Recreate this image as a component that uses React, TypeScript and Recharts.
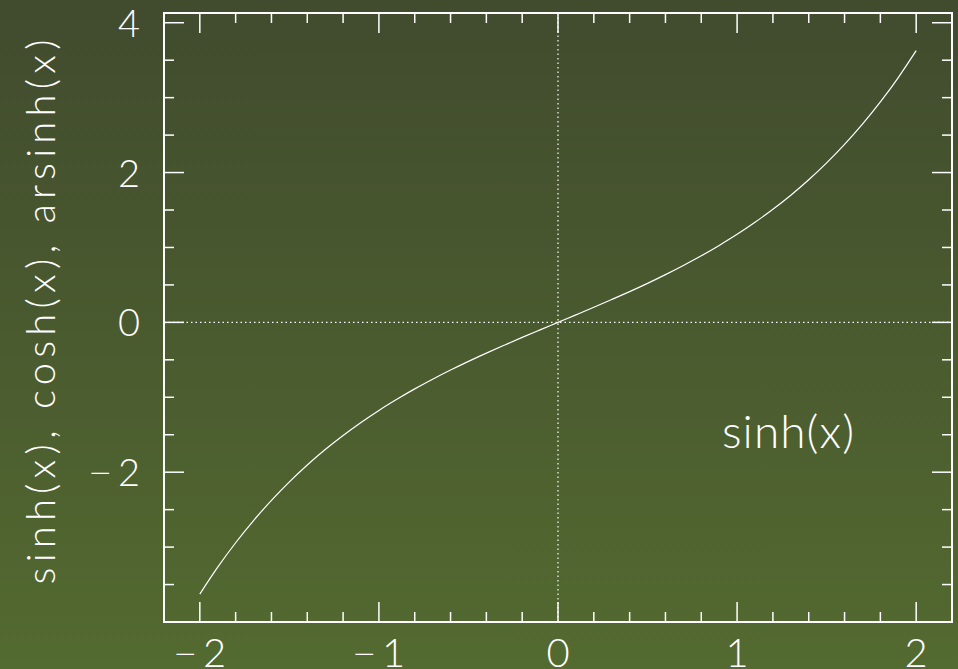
import { LineChart, Line, XAxis, YAxis, ReferenceLine, ReferenceArea } from 'recharts';

// x samples and sinh(x) values
const xs = [
  -2.0, -1.9, -1.8, -1.7, -1.6, -1.5, -1.4, -1.3, -1.2, -1.1, -1.0,
  -0.9, -0.8, -0.7, -0.6, -0.5, -0.4, -0.3, -0.2, -0.1, 0.0,
  0.1, 0.2, 0.3, 0.4, 0.5, 0.6, 0.7, 0.8, 0.9, 1.0,
  1.1, 1.2, 1.3, 1.4, 1.5, 1.6, 1.7, 1.8, 1.9, 2.0,
];
const sinhValues = [
  -3.627, -3.268, -2.942, -2.646, -2.376, -2.129, -1.904, -1.698, -1.510, -1.336, -1.175,
  -1.027, -0.888, -0.759, -0.637, -0.521, -0.411, -0.305, -0.201, -0.100, 0.0,
  0.100, 0.201, 0.305, 0.411, 0.521, 0.637, 0.759, 0.888, 1.027, 1.175,
  1.336, 1.510, 1.698, 1.904, 2.129, 2.376, 2.646, 2.942, 3.268, 3.627,
];

const xTicks = [
  -2, -1.8, -1.6, -1.4, -1.2, -1, -0.8, -0.6, -0.4, -0.2, 0,
  0.2, 0.4, 0.6, 0.8, 1, 1.2, 1.4, 1.6, 1.8, 2,
];
const yTicks = [-3.5, -3, -2.5, -2, -1.5, -1, -0.5, 0, 0.5, 1, 1.5, 2, 2.5, 3, 3.5, 4];
const yLabelled = [-2, 0, 2, 4];

const xDomain: [number, number] = [-2.2, 2.2];
const yDomain: [number, number] = [-4, 4.13];

const data = xs.map((x, i) => ({ x, y: sinhValues[i] }));

const W = 958;
const H = 669;
const LEFT = 164;
const RIGHT = 952;
const TOP = 13;
const BOTTOM = 622;
const MAJOR = 20;
const MINOR = 10;
const FONT = 'Lato, Roboto, "DejaVu Sans", sans-serif';
const WEIGHT = 300;

// long thin minus sign, raised to digit mid-height, then the magnitude
const Num = ({ v }: { v: number }) =>
  v < 0 ? (
    <>
      <tspan fontFamily='"DejaVu Sans"' fontWeight={200} fontSize={28} dy={-4}>
        {'\u2212'}
      </tspan>
      <tspan dx={6} dy={4}>
        {Math.abs(v)}
      </tspan>
    </>
  ) : (
    <>{String(v)}</>
  );

const XTick = (props: any) => {
  const { x, payload } = props;
  const v = payload.value;
  const major = Number.isInteger(v);
  const len = major ? MAJOR : MINOR;
  return (
    <g>
      <line x1={x} x2={x} y1={BOTTOM} y2={BOTTOM - len} stroke="#fff" strokeWidth={1.5} />
      <line x1={x} x2={x} y1={TOP} y2={TOP + len} stroke="#fff" strokeWidth={1.5} />
      {major && (
        <text x={x} y={667} textAnchor="middle" fill="#fff" fontSize={40} fontWeight={WEIGHT} fontFamily={FONT}>
          <Num v={v} />
        </text>
      )}
    </g>
  );
};

const YTick = (props: any) => {
  const { y, payload } = props;
  const v = payload.value;
  const major = yLabelled.includes(v);
  const len = major ? MAJOR : MINOR;
  return (
    <g>
      <line x1={LEFT} x2={LEFT + len} y1={y} y2={y} stroke="#fff" strokeWidth={1.5} />
      <line x1={RIGHT} x2={RIGHT - len} y1={y} y2={y} stroke="#fff" strokeWidth={1.5} />
      {major && (
        <text x={140} y={y + 14} textAnchor="end" fill="#fff" fontSize={38} fontWeight={WEIGHT} fontFamily={FONT}>
          <Num v={v} />
        </text>
      )}
    </g>
  );
};

export default function App() {
  return (
    <div
      style={{
        position: 'absolute',
        left: 0,
        top: 0,
        width: W,
        height: H,
        background: 'linear-gradient(to bottom, #414b2e 0%, #536a30 100%)',
      }}
    >
      <LineChart
        width={W}
        height={H}
        data={data}
        margin={{ top: TOP, right: W - RIGHT, bottom: 0, left: 0 }}
      >
        <XAxis
          dataKey="x"
          type="number"
          domain={xDomain}
          ticks={xTicks}
          interval={0}
          axisLine={false}
          tickLine={false}
          tick={<XTick />}
          height={H - BOTTOM}
          allowDataOverflow
        />
        <YAxis
          type="number"
          domain={yDomain}
          ticks={yTicks}
          interval={0}
          axisLine={false}
          tickLine={false}
          tick={<YTick />}
          width={LEFT}
          allowDataOverflow
        />
        <ReferenceLine x={0} stroke="#fff" strokeWidth={1.2} strokeDasharray="1.5 3" />
        <ReferenceLine y={0} stroke="#fff" strokeWidth={1.2} strokeDasharray="1.5 3" />
        <Line
          dataKey="y"
          type="monotone"
          stroke="#fff"
          strokeWidth={1.2}
          dot={false}
          isAnimationActive={false}
        />
        <ReferenceArea
          x1={xDomain[0]}
          x2={xDomain[1]}
          y1={yDomain[0]}
          y2={yDomain[1]}
          fill="none"
          fillOpacity={0}
          stroke="#fff"
          strokeWidth={2}
          ifOverflow="visible"
        />
        <text
          x={40}
          y={312}
          transform="rotate(-90 40 312)"
          textAnchor="middle"
          dominantBaseline="central"
          fill="#fff"
          fontSize={40}
          fontWeight={WEIGHT}
          fontFamily={FONT}
          textLength={545}
          lengthAdjust="spacing"
        >
          sinh(x), cosh(x), arsinh(x)
        </text>
        <text
          x={722}
          y={448}
          fill="#fff"
          fontSize={46}
          fontWeight={WEIGHT}
          fontFamily={FONT}
          textLength={132}
          lengthAdjust="spacing"
        >
          sinh(x)
        </text>
      </LineChart>
    </div>
  );
}
